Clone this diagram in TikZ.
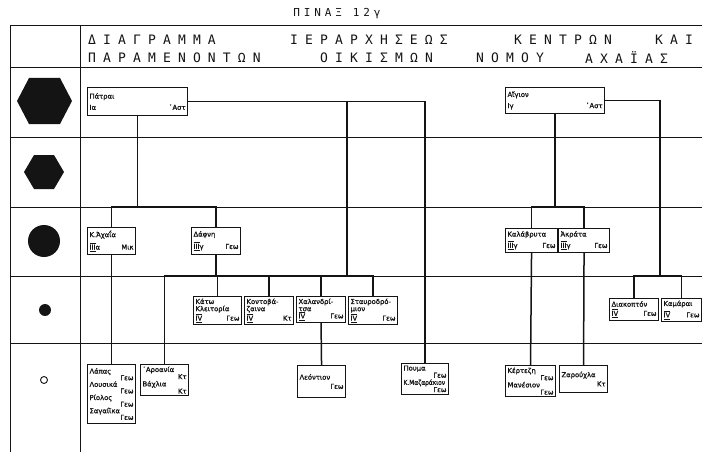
\documentclass[tikz,border=0pt]{standalone}
\usepackage{fontspec}
\usepackage{tikz}
\usetikzlibrary{positioning}
\setmainfont{DejaVu Sans}
\newfontfamily\ttlfont[LetterSpace=55]{DejaVu Sans Mono}
\newfontfamily\capfont[LetterSpace=35]{DejaVu Sans Mono}
\newfontfamily\boxfont[FakeBold=1.2]{DejaVu Sans}
\definecolor{pInk}{HTML}{141414}
\newcommand\rt[1]{\hspace*{0pt plus 1filll}#1}
\newcommand\rnum[1]{$\underline{\overline{\hbox{#1}}}$}

\begin{document}
\begin{tikzpicture}[x=1pt, y=-1pt,
    grid/.style={line width=0.8pt, pInk},
    link/.style={line width=1.5pt, pInk},
    box/.style={draw=pInk, line width=1.1pt, fill=white, anchor=north west, inner sep=2pt,
      align=left, text=pInk, font=\boxfont\fontsize{6.8}{7.2}\selectfont},
    ttl/.style={anchor=west, inner sep=0pt, text=pInk, font=\ttlfont\fontsize{13}{15}\selectfont}]
  \fill[white] (0,0) rectangle (702,452);
  \clip (0,0) rectangle (702,452);

  % table
  \foreach \y in {25,67,137,207,276,343}
    \draw[grid] (10,\y) -- (702,\y);
  \foreach \x in {10,80}
    \draw[grid] (\x,25) -- (\x,452);
  \coordinate (bus3) at (0,207);
  \coordinate (bus4) at (0,276);

  \node[inner sep=0pt, text=pInk, font=\capfont\fontsize{11}{13}\selectfont] (tab) at (337,14) {ΠΙΝΑΞ\hspace{11pt}12γ};
  \foreach \w/\x/\y [count=\i] in {ΔΙΑΓΡΑΜΜΑ/88/40, ΙΕΡΑΡΧΗΣΕΩΣ/290/40, ΚΕΝΤΡΩΝ/514/40, ΚΑΙ/655/40,
      ΠΑΡΑΜΕΝΟΝΤΩΝ/88/58, ΟΙΚΙΣΜΩΝ/320/58, ΝΟΜΟΥ/476/58, ΑΧΑΪΑΣ/585/58}
    \node[ttl] (ttl\i) at (\x,\y) {\w};

  % rank symbols
  \fill[pInk] (17,101) -- (29,78) -- (60,78) -- (72,101) -- (60,124) -- (29,124) -- cycle;
  \fill[pInk] (24,172) -- (34,155) -- (54,155) -- (64,172) -- (54,189) -- (34,189) -- cycle;
  \fill[pInk] (44,241) circle (16);
  \fill[pInk] (45,310) circle (6);
  \draw[pInk, line width=0.9pt] (44,380) circle (3.5);

  % centres
  \node[box, text width=96pt, minimum height=28pt] (patrai) at (87,87) {Πάτραι\\[4pt]Ια\rt{᾿Αστ}};
  \node[box, text width=95pt, minimum height=26pt] (aigion) at (505,87) {Αἴγιον\\[4pt]Ιγ\rt{᾿Αστ}};
  \node[box, text width=44pt, minimum height=27pt] (kachaia) at (87,227) {Κ.Ἀχαΐα\\[3pt]\rnum{III}α\rt{Μικ}};
  \node[box, text width=45pt, minimum height=27pt] (dafni) at (191,227) {Δάφνη\\[3pt]\rnum{III}γ\rt{Γεω}};
  \node[box, text width=48pt, minimum height=24pt] (kalavryta) at (505,228) {Καλάβρυτα\\[2pt]\rnum{III}γ\rt{Γεω}};
  \node[box, text width=47pt, minimum height=24pt] (akrata) at (558,228) {Ἀκράτα\\[2pt]\rnum{III}γ\rt{Γεω}};
  \node[box, text width=44pt, minimum height=24pt] (katokl) at (193,296) {Κάτω\\Κλειτορία\\\rnum{IV}\rt{Γεω}};
  \node[box, text width=45pt, minimum height=24pt] (kontov) at (244,296) {Κοντοβά-\\ζαινα\\\rnum{IV}\rt{Κτ}};
  \node[box, text width=45pt, minimum height=24pt] (chaland) at (296,296) {Χαλανδρί-\\τσα\\\rnum{IV}\rt{Γεω}};
  \node[box, text width=45pt, minimum height=24pt] (stavrod) at (348,296) {Σταυροδρό-\\μιον\\\rnum{IV}\rt{Γεω}};
  \node[box, text width=45pt, minimum height=22pt] (diakopto) at (609,298) {Διακοπτόν\\[2pt]\rnum{IV}\rt{Γεω}};
  \node[box, text width=36pt, minimum height=22pt] (kamarai) at (661,298) {Καμάραι\\[2pt]\rnum{IV}\rt{Γεω}};

  % remaining settlements
  \node[box, text width=44pt, minimum height=59pt] (lapas) at (87,364)
    {Λάπας\\[-0.6pt]\rt{Γεω}\\[-0.6pt]Λουσικά\\[-0.6pt]\rt{Γεω}\\[-0.6pt]Ρίολος\\[-0.6pt]\rt{Γεω}\\[-0.6pt]Σαγαίϊκα\\[-0.6pt]\rt{Γεω}};
  \node[box, text width=44pt, minimum height=29pt] (aroania) at (140,364) {᾿Αροανία\\\rt{Κτ}\\Βάχλια\\\rt{Κτ}};
  \node[box, text width=44pt, minimum height=32pt] (leontion) at (297,365) {Λεόντιον\\[2pt]\rt{Γεω}};
  \node[box, text width=43pt, minimum height=29pt] (pouma) at (401,363)
    {Πουμα\\\rt{Γεω}\\\scalebox{0.86}[1]{Κ.Μαζαράκιον}\\\rt{Γεω}};
  \node[box, text width=46pt, minimum height=27pt] (kertezi) at (505,365) {Κέρτεζη\\\rt{Γεω}\\Μανέσιον\\\rt{Γεω}};
  \node[box, text width=44pt, minimum height=27pt] (zarouchla) at (559,365) {Ζαρούχλα\\[2pt]\rt{Κτ}};

  % hierarchy
  \coordinate (jc) at (347,276);
  \coordinate (ja) at (660,276);
  \draw[link] (patrai.east) -| (pouma.north);
  \draw[link] (jc |- patrai.east) -- (jc);
  \draw[link] (aigion.east) -| (ja);
  \foreach \n in {patrai.south, aigion.south}
    \draw[link] (\n) -- (\n |- bus3);
  \draw[link] (kachaia.north) |- (dafni.north |- bus3) -- (dafni.north);
  \draw[link] (kalavryta.north) |- (akrata.north |- bus3) -- (akrata.north);
  \foreach \n in {dafni.south, katokl.north, kontov.north, chaland.north}
    \draw[link] (\n) -- (\n |- bus4);
  \draw[link] (aroania.north) |- (stavrod.north |- bus4) -- (stavrod.north);
  \draw[link] (diakopto.north) |- (kamarai.north |- bus4) -- (kamarai.north);
  \draw[link] (kachaia.south) -- (lapas.north);
  \draw[link] (chaland.south) -- (leontion.north);
  \draw[link] (kalavryta.south) -- (kertezi.north);
  \draw[link] (akrata.south) -- (zarouchla.north);
\end{tikzpicture}
\end{document}
